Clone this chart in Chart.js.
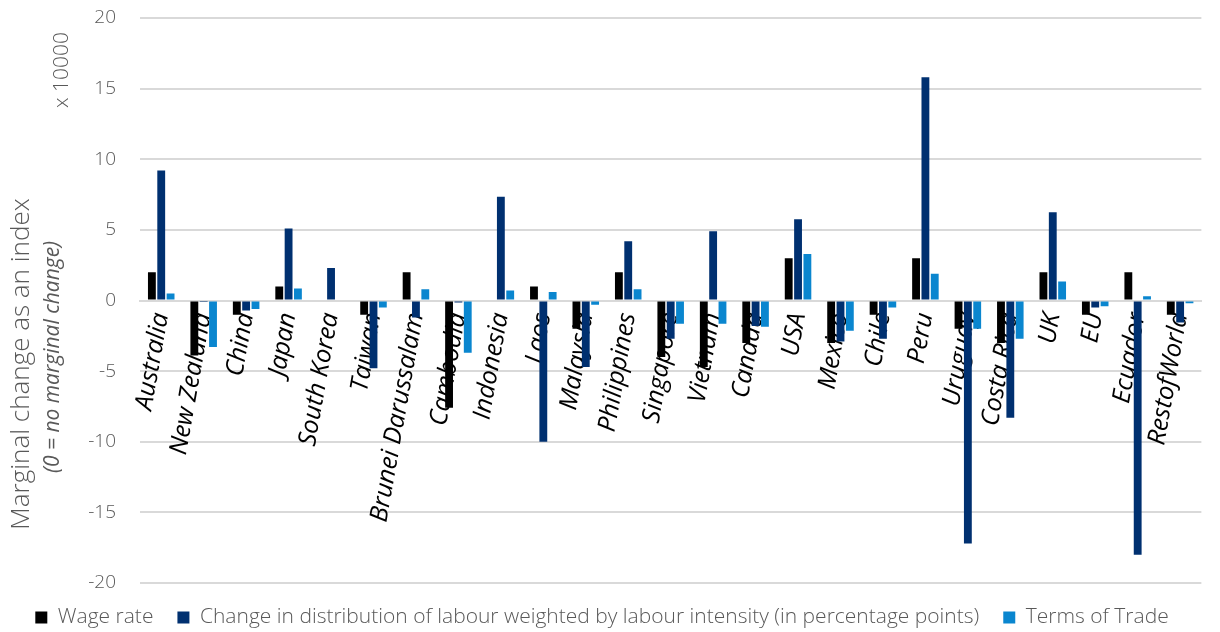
<!DOCTYPE html>
<html>
<head>
<meta charset="utf-8">
<script src="https://cdn.jsdelivr.net/npm/chart.js@4.4.1/dist/chart.umd.min.js"></script>
<style>
  html, body { margin: 0; padding: 0; background: #fff; }
  #wrap { width: 1220px; height: 632px; position: relative; }
</style>
</head>
<body>
<div id="wrap"><canvas id="chart"></canvas></div>
<script>
// Countries / regions on the category axis
const categories = [
  'Australia', 'New Zealand', 'China', 'Japan', 'South Korea', 'Taiwan',
  'Brunei Darussalam', 'Cambodia', 'Indonesia', 'Laos', 'Malaysia',
  'Philippines', 'Singapore', 'Vietnam', 'Canada', 'USA', 'Mexico', 'Chile',
  'Peru', 'Uruguay', 'Costa Rica', 'UK', 'EU', 'Ecuador', 'RestofWorld'
];

// Marginal changes (x 10000)
const wageRate = [
  2, -3.9, -1, 1, 0, -1, 2, -7.6, 0, 1, -2, 2, -4, -4.7, -3, 3, -3, -1,
  3, -2, -3, 2, -1, 2, -1
];
const labourDistribution = [
  9.2, -0.1, -0.7, 5.1, 2.3, -4.8, -1.2, -0.15, 7.35, -10, -4.7, 4.2, -2.7,
  4.9, -1.8, 5.75, -2.9, -2.7, 15.8, -17.2, -8.3, 6.25, -0.5, -18, -1.55
];
const termsOfTrade = [
  0.5, -3.3, -0.6, 0.85, 0, -0.5, 0.8, -3.7, 0.7, 0.6, -0.3, 0.8, -1.65,
  -1.65, -1.85, 3.3, -2.15, -0.5, 1.9, -2, -2.7, 1.35, -0.4, 0.3, -0.2
];

const yTicks = [-20, -15, -10, -5, 0, 5, 10, 15, 20];

const seriesNames = [
  'Wage rate',
  'Change in distribution of labour weighted by labour intensity (in percentage points)',
  'Terms of Trade'
];

const FONT = '"Open Sans", "Noto Sans", sans-serif';
const GREY = '#595959';

// Rotated y-axis titles and the scale multiplier note
const axisTitles = {
  id: 'axisTitles',
  afterDraw(chart) {
    const ctx = chart.ctx;
    const drawRotated = (text, x, y, font) => {
      ctx.save();
      ctx.translate(x, y);
      ctx.rotate(-Math.PI / 2);
      ctx.font = font;
      ctx.fillStyle = GREY;
      ctx.textAlign = 'center';
      ctx.textBaseline = 'middle';
      ctx.fillText(text, 0, 0);
      ctx.restore();
    };
    drawRotated('Marginal change as an index', 22, 364, '300 26px ' + FONT);
    drawRotated('(0 = no marginal change)', 53, 357, 'italic 400 21px ' + FONT);
    drawRotated('x 10000', 62, 70, '300 21px ' + FONT);
  }
};

new Chart(document.getElementById('chart'), {
  type: 'bar',
  data: {
    labels: categories,
    datasets: [
      { label: seriesNames[0], data: wageRate, backgroundColor: '#000000' },
      { label: seriesNames[1], data: labourDistribution, backgroundColor: '#003070' },
      { label: seriesNames[2], data: termsOfTrade, backgroundColor: '#0A86CF' }
    ]
  },
  options: {
    responsive: true,
    maintainAspectRatio: false,
    animation: false,
    datasets: {
      bar: { categoryPercentage: 0.66, barPercentage: 0.84 }
    },
    layout: { padding: { top: 18, right: 16, bottom: -6, left: 0 } },
    plugins: {
      legend: {
        position: 'bottom',
        labels: {
          boxWidth: 12,
          boxHeight: 12,
          padding: 24,
          color: GREY,
          font: { family: FONT, size: 21, weight: '300' }
        }
      },
      tooltip: { enabled: false }
    },
    scales: {
      x: {
        position: { y: 0 },
        grid: { display: false, drawTicks: false },
        border: { display: true, color: '#d9d9d9', width: 2 },
        ticks: {
          autoSkip: false,
          minRotation: 80,
          maxRotation: 80,
          padding: 10,
          color: '#000',
          font: { family: FONT, size: 25, style: 'italic' }
        }
      },
      y: {
        min: -20,
        max: 20,
        afterBuildTicks(scale) {
          scale.ticks = yTicks.map(v => ({ value: v }));
        },
        afterFit(scale) {
          scale.width = 140;
          scale.paddingTop = 0;
          scale.paddingBottom = 0;
        },
        grid: { color: '#d9d9d9', lineWidth: 2, drawTicks: false },
        border: { display: false },
        ticks: {
          padding: 24,
          color: GREY,
          font: { family: FONT, size: 19, weight: '300' }
        }
      }
    }
  },
  plugins: [axisTitles]
});
</script>
</body>
</html>
